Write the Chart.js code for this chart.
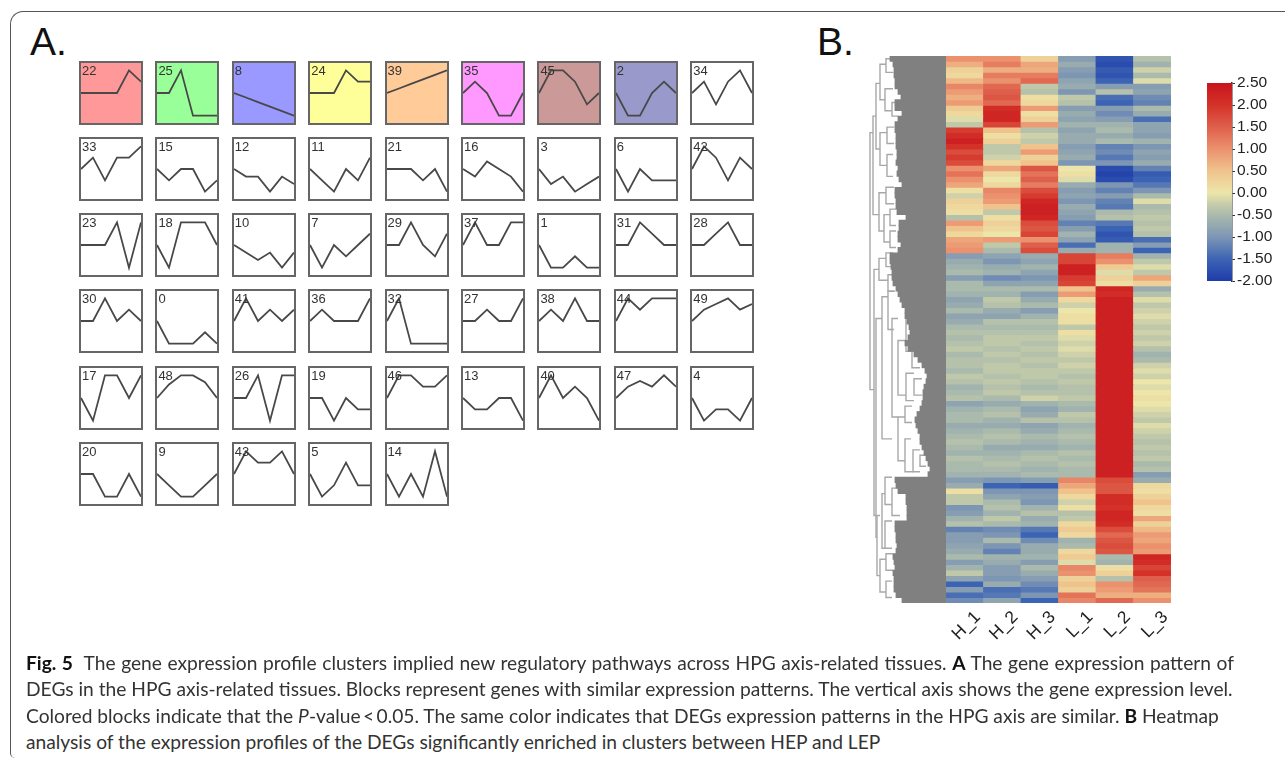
<!DOCTYPE html>
<html lang="en">
<head>
<meta charset="UTF-8">
<title>Fig. 5</title>
<script src="https://cdn.jsdelivr.net/npm/chart.js"></script>
<style>
  html, body { margin: 0; padding: 0; background: #fff; }
  body { position: relative; width: 1285px; height: 761px; overflow: hidden; font-family: "Liberation Sans", Arial, sans-serif; }
  canvas { position: absolute; filter: blur(0.4px); }
  #frame { position: absolute; left: 10px; top: 11px; width: 1300px; height: 747px; border-left: 1.5px solid #555; border-top: 1.5px solid #555; border-top-left-radius: 13px; border-bottom-left-radius: 5px; box-sizing: border-box; }
  .letter { position: absolute; font-size: 39px; line-height: 40px; color: #111; }
  .panel { position: absolute; width: 64px; height: 64px; box-sizing: border-box; border: 2px solid #666; filter: blur(0.3px); }
  .panel span { position: absolute; left: 1px; top: 1px; font-size: 13px; line-height: 14px; color: #333; z-index: 1; }
  .cap { position: absolute; left: 26px; white-space: nowrap; font-family: Lato, sans-serif; font-size: 19.2px; line-height: 24px; color: #333; text-align: justify; text-align-last: justify; }
  .cap b { color: #111; }
</style>
</head>
<body>
<div id="frame"></div>
<div class="letter" style="left:30px;top:22px">A.</div>
<div class="letter" style="left:817px;top:22px">B.</div>
<div id="panels"></div>
<canvas id="branchChart" style="left:868px;top:56px"></canvas>
<canvas id="massChart" style="left:868px;top:56px"></canvas>
<canvas id="heatChart" style="left:946px;top:56px"></canvas>
<canvas id="barChart" style="left:1195px;top:70px"></canvas>

<div class="cap" style="top:651px;width:1208px"><b>Fig. 5</b>&nbsp; The gene expression profile clusters implied new regulatory pathways across HPG axis-related tissues. <b>A</b> The gene expression pattern of</div>
<div class="cap" style="top:677px;width:1200px">DEGs in the HPG axis-related tissues. Blocks represent genes with similar expression patterns. The vertical axis shows the gene expression level.</div>
<div class="cap" style="top:704px;width:1187px">Colored blocks indicate that the <i>P</i>-value&thinsp;&lt;&thinsp;0.05. The same color indicates that DEGs expression patterns in the HPG axis are similar. <b>B</b> Heatmap</div>
<div class="cap" style="top:730px;text-align-last:left">analysis of the expression profiles of the DEGs significantly enriched in clusters between HEP and LEP</div>

<script>
// A: profile clusters, in reading order
const panelLabels = [22,25,8,24,39,35,45,2,34, 33,15,12,11,21,16,3,6,42, 23,18,10,7,29,37,1,31,28,
                     30,0,41,36,32,27,38,44,49, 17,48,26,19,46,13,40,47,4, 20,9,43,5,14];
const panelFills = ['#ff9999','#99ff99','#9999ff','#ffff99','#ffcc99','#ff99ff','#cc9999','#9999cc'];
const panelValues = [
  [0,0,0,0,2,1],[0,0,2,-2,-2,-2],[0,-.4,-.8,-1.2,-1.6,-2],[0,0,0,2,1,1],[0,.4,.8,1.2,1.6,2],
  [0,1,0,-2,-2,0],[0,2,2,1,-1,0],[0,-2,-2,0,1,0],[0,1,-1,1,2,0],
  [0,1,-1,1,1,2],[0,-1,0,0,-2,-1],[0,-.67,-.67,-2,-.67,-1.33],[0,-1,-2,0,-1,1],[0,0,0,-1,0,-2],
  [0,-.67,.67,0,-.67,-2],[0,-1.33,-.67,-2,-1.33,-.67],[0,-2,0,-1,-1,-1],[0,2,1,-1,1,0],
  [0,0,0,2,-2,2],[0,-2,2,2,2,0],[0,-.67,-1.33,-.67,-2,-.67],[0,-2,0,-1,0,1],[0,0,2,0,-1,1],
  [0,2,0,0,2,2],[0,-2,-2,-1,-2,-2],[0,0,2,1,0,0],[0,0,1,2,0,0],
  [0,0,2,0,1,0],[0,-2,-2,-2,-1,-2],[0,2,0,1,0,1],[0,1,0,0,0,2],[0,2,-2,-2,-2,-2],
  [0,0,1,0,0,2],[0,1,0,2,0,0],[0,2,1,2,2,2],[0,1,1.5,2,1,1.5],
  [0,-2,2,2,0,2],[0,1.2,2,2,1.4,0],[0,0,2,-2,2,2],[0,0,-2,0,-1,-1],[0,2,2,1,1,2],
  [0,-1,-1,0,0,-2],[0,2,0,1,0,-2],[0,1,1.5,1,2,1],[0,-2,-1,-1,-2,0],
  [0,0,-2,-2,0,-2],[0,-1,-2,-2,-1,0],[0,2,1,1,2,0],[0,-2,-1,1,-1,-1],[0,-2,0,-2,2,-2]
];
const timePoints = ['t0','t1','t2','t3','t4','t5'];

// B: heatmap columns, one value per row band from the top
const heatColumns = ['H_1','H_2','H_3','L_1','L_2','L_3'];
const h1 = [1.0,.7,.3,.2,.6,1.1,.9,.7,.9,.4,
  .2,-.1,-.3,1.9,2.1,2.3,2.0,1.7,1.9,1.7,
  1.0,1.3,1.0,.8,.1,-.2,.3,.2,.1,-.4,
  .9,.5,.2,.8,.9,1.0,-.9,-.7,-.6,-.5,
  -.9,-.5,-.5,-.6,-.8,-.7,-.5,-.8,-.7,-.5,
  -.4,-.5,-.4,-.3,-.5,-.4,-.4,-.5,-.3,-.4,
  -.6,-.5,-.4,-.8,-.6,-.5,-.5,-.7,-.6,-.5,
  -.4,-.5,-.6,-.4,-.5,-.5,-.6,-.9,-.7,.1,
  -.3,-.3,-1.0,-.9,-.6,-.4,-1.2,-.9,-.9,-.8,
  -.7,-.5,-.9,-.6,-.3,-.8,-1.5,-.9,-1.4,-1.1];
const h2 = [1.0,1.2,.7,1.2,1.0,1.4,1.5,1.6,1.4,2.1,
  2.2,2.2,1.8,.5,.1,.3,-.3,-.3,-.2,.2,
  .8,.2,0,.2,1.1,1.0,.9,.5,-.3,.1,
  .3,.2,0,.9,-.3,-.5,-.8,-1.0,-.7,-.6,
  -1.1,-.8,-.5,-.6,-.3,-.4,-.7,-.8,-.4,-.5,
  -.4,-.3,-.3,-.4,-.3,-.4,-.3,-.3,-.4,-.3,
  -.4,-.3,-.5,-.7,-.5,-.4,-.6,-.7,-.5,-.4,
  -.5,-.7,-.6,-.5,-.4,-.5,-.6,-1.0,-1.5,-1.0,
  -.8,-.5,-.4,-.6,-.3,-.5,-1.1,-1.0,-.5,-1.0,
  -1.2,-.6,-.7,-.9,-.9,-1.0,-.7,-1.4,-1.3,-.8];
const h3 = [.3,.8,.7,1.2,1.4,-.3,-.4,.1,.2,.9,
  .1,.3,.9,-.4,-.2,-.3,.5,.9,.3,.5,
  1.6,1.3,1.5,1.2,1.7,1.9,2.2,2.3,2.3,2.2,
  1.7,1.6,1.8,1.0,1.5,1.7,-.7,-.8,-.6,-.8,
  -1.0,-.8,-.5,-.9,-.7,-.5,-.9,-.6,-.4,-.5,
  -.4,-.3,-.4,-.3,-.4,-.3,-.4,-.3,-.3,-.4,
  -.5,-.4,-.2,-.6,-.8,-.7,-.4,-.8,-.7,-.5,
  -.6,-.7,-.5,-.4,-.5,-.6,-.5,-.9,-1.6,-1.0,
  -.9,-1.0,-.6,-.4,-.7,-.6,-1.3,-1.5,-1.1,-.7,
  -.7,-.6,-.9,-.5,-.7,-.9,-1.1,-1.3,-1.0,-1.5];
const l1 = [-.9,-.7,-.9,-1.0,-.8,-.7,-1.0,-.3,-.4,-.9,
  -.7,-.8,-.6,-.8,-.7,-.7,-.9,-.8,-.7,-1.0,
  0,.1,-.1,-.7,-.9,-.8,-1.0,-.7,-.8,-.9,
  -1.2,-.9,-.6,-.8,-1.4,-.7,1.8,1.8,2.3,2.3,
  1.9,1.8,.5,.9,.2,-.2,0,.1,.1,-.3,
  .1,-.1,-.2,-.1,-.2,-.3,-.2,-.3,-.4,-.3,
  -.4,-.4,-.3,-.5,-.6,-.3,-.4,-.6,-.5,-.4,
  -.5,-.6,-.4,-.5,-.4,-.5,-.5,1.1,.8,.5,
  .2,-.2,.1,-.4,-.3,.2,.4,.2,-.6,-.5,
  .2,.4,-.1,1.1,1.0,.3,.5,.3,1.3,1.1];
const l2 = [-1.7,-1.8,-1.6,-1.7,-1.5,-.9,-.4,-1.4,-1.5,-.9,
  -1.1,-.9,-.6,-.5,-.7,-.5,-1.2,-1.1,-1.3,-1.0,
  -1.8,-1.9,-1.8,-1.0,-1.2,-.9,-1.2,-1.3,-.5,-.4,
  -1.3,-1.5,-1.7,-1.6,-.6,-.6,1.2,1.0,.4,-.1,
  .3,.1,2.2,2.1,2.3,2.3,2.3,2.3,2.3,2.3,
  2.3,2.3,2.3,2.3,2.3,2.3,2.3,2.3,2.3,2.3,
  2.3,2.3,2.3,2.3,2.3,2.3,2.3,2.3,2.3,2.3,
  2.3,2.3,2.3,2.3,2.3,2.3,2.3,1.7,1.6,1.6,
  2.1,2.1,2.0,2.2,2.2,2.1,1.7,1.4,1.6,1.7,
  1.6,-.5,-.6,.1,.3,-.4,1.0,.9,.7,1.4];
const l3 = [-.4,-.6,-.2,-.5,-.1,-.9,-.8,-1.1,-1.2,-.5,
  -.7,-1.4,-.8,-.8,-.9,-.6,-1.0,-.8,-.9,-.7,
  -1.2,-1.6,-1.5,-1.3,-1.0,-.5,-.1,-.5,-.4,-.3,
  -.4,-.3,-.4,-1.4,-.9,-1.5,-.6,-.3,-.1,-.3,
  .8,.3,-.7,-.4,-.1,-.3,-.2,-.1,-.2,-.3,
  -.2,-.3,-.2,-.4,-.6,-.5,-.2,-.1,-.2,0,
  -.1,0,.1,0,-.1,-.2,-.3,-.1,-.2,-.3,
  -.4,-.3,-.4,-.3,-.5,-.4,-.9,-.7,.2,.1,
  .3,.5,.2,.1,.8,.3,.6,.9,.8,1.0,
  .9,2.2,2.1,1.8,2.0,1.5,1.4,1.3,.7,1.0];

// where the dense leaves of the tree start, per row band
const leafStarts = [22,25,26,26,27,27,30,33,27,27,
  34,30,27,27,28,28,28,29,29,28,
  30,29,31,34,27,27,28,28,29,38,
  31,31,30,30,33,30,22,22,23,24,
  24,25,28,30,32,34,37,37,39,41,
  42,40,37,40,46,50,54,57,59,58,
  56,55,55,54,52,49,47,48,50,52,
  52,54,56,58,60,62,60,27,28,30,
  38,38,39,39,39,27,27,28,28,29,
  28,25,26,27,25,26,26,26,28,34];

// tree brackets: [depth, top row, bottom row, depth of top child, depth of bottom child]
const branches = [
  [2,14,61,5,6],[5,11,29,8,11],[8,5,17,12,12],[12,1.5,8,18,17],[18,.5,3,25,25],[17,6,10,25,24],
  [24,8.5,11,30,30],[12,14,20,19,19],[19,13,16,26,26],[19,18,22,25,25],[11,25,32,18,16],
  [18,24,27,26,26],[16,29,34,22,22],[22,28,31,28,28],[22,32,35,28,28],
  [6,39,84,11,8],[11,37,41,18,20],[18,36,38.5,25,25],[20,40,43,27,27],[8,48,88,14,9],
  [14,44,70,20,24],[20,43,50,26,26],[24,48,66,30,30],[30,52,62,38,38],[38,47,54,44,44],
  [38,58,63,46,46],[44,54,57,52,52],[46,59,62,54,54],[30,66,74,37,37],[37,64,67,44,44],
  [37,70,76,43,45],[45,72,76,52,52],[52,73,75,58,58],[9,84,95,12,12],[14,80,90,17,17],
  [17,77,82,24,24],[17,85,90,24,24],[12,92,98,18,18],[18,91,94,25,25],[18,96,99,24,24],[24,79,84,32,32]
];

const colorbarTicks = [2.5,2,1.5,1,.5,0,-.5,-1,-1.5,-2];
const heatStops = [-2,-1.5,-1,-.5,-.25,0,.5,1,1.5,2,2.5];
const heatRgb = [[30,60,170],[60,100,180],[125,150,180],[170,186,172],[198,204,170],[236,230,170],
                 [240,195,140],[235,145,110],[222,95,75],[212,50,40],[200,20,30]];

function heatColor(v) {
  let i = 0;
  while (i < heatStops.length - 2 && v > heatStops[i + 1]) i++;
  const t = (v - heatStops[i]) / (heatStops[i + 1] - heatStops[i]);
  const c = heatRgb[i].map((a, k) => Math.round(a + (heatRgb[i + 1][k] - a) * t));
  return `rgb(${c[0]},${c[1]},${c[2]})`;
}

Chart.defaults.animation = false;
Chart.defaults.responsive = false;
Chart.defaults.plugins.legend.display = false;
Chart.defaults.plugins.tooltip.enabled = false;
Chart.defaults.font.family = '"Liberation Sans", Arial, sans-serif';

function sizeCanvas(id, w, h) {
  const c = document.getElementById(id);
  c.width = w; c.height = h;
  c.style.width = w + 'px'; c.style.height = h + 'px';
  return c;
}

// small multiples
const host = document.getElementById('panels');
panelLabels.forEach((label, i) => {
  const col = i % 9, row = Math.floor(i / 9);
  const box = document.createElement('div');
  box.className = 'panel';
  box.style.left = (79 + col * 76.4) + 'px';
  box.style.top = (60.5 + row * 76.3) + 'px';
  if (panelFills[i]) box.style.background = panelFills[i];
  const tag = document.createElement('span');
  tag.textContent = label;
  box.appendChild(tag);
  const c = document.createElement('canvas');
  c.width = 60; c.height = 60;
  c.style.cssText = 'left:0;top:0;width:60px;height:60px;filter:none';
  box.appendChild(c);
  host.appendChild(box);
  new Chart(c, {
    type: 'line',
    data: { labels: timePoints, datasets: [{ data: panelValues[i], borderColor: '#484848', borderWidth: 1.8, pointRadius: 0, tension: 0 }] },
    options: {
      layout: { padding: 0 },
      scales: { x: { display: false }, y: { display: false, min: -2.65, max: 2.65 } }
    }
  });
});

// heatmap: one stacked dataset per row band
new Chart(sizeCanvas('heatChart', 225, 597), {
  type: 'bar',
  data: {
    labels: heatColumns,
    datasets: h1.map((_, r) => {
      const rowVals = [h1[r], h2[r], h3[r], l1[r], l2[r], l3[r]];
      return { data: heatColumns.map(() => 1), backgroundColor: rowVals.map(heatColor), borderWidth: 0, inflateAmount: 0.4, barPercentage: 1, categoryPercentage: 1 };
    })
  },
  options: {
    layout: { padding: 0 },
    scales: {
      x: {
        stacked: true,
        grid: { display: false }, border: { display: false },
        ticks: { color: '#222', font: { size: 17.5 }, maxRotation: 45, minRotation: 45, labelOffset: 13, padding: -4, autoSkip: false },
        afterFit(s) { s.height = 50; s.paddingLeft = 0; s.paddingRight = 0; }
      },
      y: { stacked: true, display: false, reverse: true, min: 0, max: h1.length }
    }
  }
});

// tree: leaf mass
new Chart(sizeCanvas('massChart', 78, 547), {
  type: 'bar',
  data: {
    labels: leafStarts.map((_, r) => r),
    datasets: [{ data: leafStarts.map(s => [s, 78]), backgroundColor: '#808080', borderWidth: 0, inflateAmount: 0.4, barPercentage: 1, categoryPercentage: 1 }]
  },
  options: {
    indexAxis: 'y',
    layout: { padding: 0 },
    scales: { x: { display: false, min: 0, max: 78 }, y: { display: false } }
  }
});

// tree: upper branches
new Chart(sizeCanvas('branchChart', 78, 547), {
  type: 'scatter',
  data: {
    datasets: branches.map(([d, a, b, d1, d2]) => ({
      data: [{ x: d1, y: a }, { x: d, y: a }, { x: d, y: b }, { x: d2, y: b }],
      showLine: true, borderColor: '#a8a8a8', borderWidth: 1.4, pointRadius: 0, tension: 0
    }))
  },
  options: {
    layout: { padding: 0 },
    scales: { x: { display: false, min: 0, max: 78 }, y: { display: false, reverse: true, min: 0, max: h1.length } }
  }
});

// colour key
new Chart(sizeCanvas('barChart', 90, 224), {
  type: 'bar',
  data: {
    labels: ['key'],
    datasets: [{
      data: [[-2, 2.5]],
      borderWidth: 0, barPercentage: 1, categoryPercentage: 1,
      backgroundColor(ctx) {
        const area = ctx.chart.chartArea;
        if (!area) return '#ccc';
        const g = ctx.chart.ctx.createLinearGradient(0, area.bottom, 0, area.top);
        heatStops.forEach((s, i) => g.addColorStop((s + 2) / 4.5, `rgb(${heatRgb[i].join(',')})`));
        return g;
      }
    }]
  },
  options: {
    layout: { padding: { left: 12, top: 13, bottom: 13 } },
    scales: {
      x: { display: false },
      y: {
        position: 'right', min: -2, max: 2.5,
        afterBuildTicks(s) { s.ticks = colorbarTicks.map(v => ({ value: v })); },
        afterFit(s) { s.width = 53; },
        grid: { drawOnChartArea: false, drawTicks: true, tickLength: 3, color: '#333' },
        border: { display: true, color: '#333', width: 1.5 },
        ticks: { color: '#222', font: { size: 15.5 }, padding: 2, callback: v => v.toFixed(2) }
      }
    }
  }
});
</script>
</body>
</html>
